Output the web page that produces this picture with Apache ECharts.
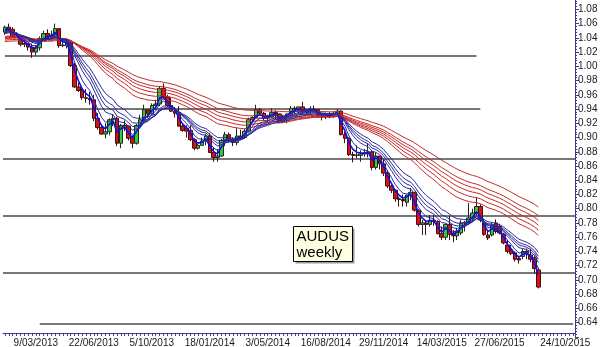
<!DOCTYPE html>
<html><head><meta charset="utf-8">
<script src="https://cdn.jsdelivr.net/npm/echarts@6/dist/echarts.min.js"></script>
<style>html,body{margin:0;padding:0;background:#fff}#c{width:600px;height:347px}</style>
</head><body><div id="c"></div>
<script>
const weekDates = [
'12/01/2013','19/01/2013','26/01/2013','2/02/2013','9/02/2013','16/02/2013','23/02/2013','2/03/2013','9/03/2013','16/03/2013',
'23/03/2013','30/03/2013','6/04/2013','13/04/2013','20/04/2013','27/04/2013','4/05/2013','11/05/2013','18/05/2013','25/05/2013',
'1/06/2013','8/06/2013','15/06/2013','22/06/2013','29/06/2013','6/07/2013','13/07/2013','20/07/2013','27/07/2013','3/08/2013',
'10/08/2013','17/08/2013','24/08/2013','31/08/2013','7/09/2013','14/09/2013','21/09/2013','28/09/2013','5/10/2013','12/10/2013',
'19/10/2013','26/10/2013','2/11/2013','9/11/2013','16/11/2013','23/11/2013','30/11/2013','7/12/2013','14/12/2013','21/12/2013',
'28/12/2013','4/01/2014','11/01/2014','18/01/2014','25/01/2014','1/02/2014','8/02/2014','15/02/2014','22/02/2014','1/03/2014',
'8/03/2014','15/03/2014','22/03/2014','29/03/2014','5/04/2014','12/04/2014','19/04/2014','26/04/2014','3/05/2014','10/05/2014',
'17/05/2014','24/05/2014','31/05/2014','7/06/2014','14/06/2014','21/06/2014','28/06/2014','5/07/2014','12/07/2014','19/07/2014',
'26/07/2014','2/08/2014','9/08/2014','16/08/2014','23/08/2014','30/08/2014','6/09/2014','13/09/2014','20/09/2014','27/09/2014',
'4/10/2014','11/10/2014','18/10/2014','25/10/2014','1/11/2014','8/11/2014','15/11/2014','22/11/2014','29/11/2014','6/12/2014',
'13/12/2014','20/12/2014','27/12/2014','3/01/2015','10/01/2015','17/01/2015','24/01/2015','31/01/2015','7/02/2015','14/02/2015',
'21/02/2015','28/02/2015','7/03/2015','14/03/2015','21/03/2015','28/03/2015','4/04/2015','11/04/2015','18/04/2015','25/04/2015',
'2/05/2015','9/05/2015','16/05/2015','23/05/2015','30/05/2015','6/06/2015','13/06/2015','20/06/2015','27/06/2015','4/07/2015',
'11/07/2015','18/07/2015','25/07/2015','1/08/2015','8/08/2015','15/08/2015','22/08/2015','29/08/2015','5/09/2015','12/09/2015',
'19/09/2015','26/09/2015','3/10/2015','10/10/2015','17/10/2015','24/10/2015','31/10/2015','7/11/2015'
];
const xLabelDates = ['9/03/2013','22/06/2013','5/10/2013','18/01/2014','3/05/2014','16/08/2014','29/11/2014','14/03/2015','27/06/2015','24/10/2015'];

const openP = [
1.0480,1.0550,1.0520,1.0420,1.0420,1.0310,1.0320,1.0270,1.0200,1.0260,
1.0390,1.0460,1.0420,1.0440,1.0530,1.0290,1.0290,1.0330,1.0010,0.9710,
0.9660,0.9560,0.9550,0.9530,0.9270,0.9140,0.9050,0.9080,0.9250,0.9270,
0.8920,0.9170,0.9160,0.8990,0.8920,0.9170,0.9250,0.9390,0.9330,0.9450,
0.9470,0.9690,0.9570,0.9450,0.9370,0.9340,0.9160,0.9130,0.9100,0.8970,
0.8850,0.8890,0.8950,0.9020,0.8790,0.8720,0.8740,0.8960,0.9040,0.8980,
0.8930,0.9020,0.9000,0.9090,0.9250,0.9280,0.9390,0.9340,0.9270,0.9290,
0.9350,0.9330,0.9230,0.9300,0.9330,0.9410,0.9400,0.9430,0.9360,0.9380,
0.9400,0.9390,0.9300,0.9290,0.9330,0.9290,0.9340,0.9370,0.9040,0.8990,
0.8760,0.8750,0.8750,0.8770,0.8780,0.8800,0.8580,0.8740,0.8630,0.8500,
0.8320,0.8260,0.8140,0.8130,0.8090,0.8190,0.8230,0.7980,0.7780,0.7800,
0.7780,0.7840,0.7820,0.7650,0.7600,0.7780,0.7640,0.7620,0.7660,0.7800,
0.7810,0.7870,0.7940,0.8030,0.7800,0.7630,0.7630,0.7800,0.7750,0.7640,
0.7490,0.7420,0.7380,0.7300,0.7330,0.7400,0.7350,0.7310,0.7140
];
const highP = [
1.0570,1.0600,1.0550,1.0480,1.0440,1.0380,1.0330,1.0320,1.0300,1.0420,
1.0500,1.0520,1.0500,1.0600,1.0530,1.0400,1.0390,1.0350,1.0050,0.9770,
0.9700,0.9680,0.9640,0.9600,0.9340,0.9190,0.9200,0.9270,0.9320,0.9290,
0.9190,0.9240,0.9170,0.9030,0.9190,0.9320,0.9460,0.9400,0.9480,0.9530,
0.9720,0.9760,0.9600,0.9560,0.9430,0.9440,0.9180,0.9170,0.9170,0.8990,
0.8910,0.9000,0.9050,0.9060,0.8860,0.8840,0.8980,0.9080,0.9070,0.9000,
0.9130,0.9110,0.9120,0.9280,0.9300,0.9460,0.9410,0.9360,0.9320,0.9410,
0.9380,0.9340,0.9320,0.9340,0.9440,0.9440,0.9430,0.9500,0.9400,0.9440,
0.9450,0.9400,0.9340,0.9350,0.9360,0.9370,0.9400,0.9380,0.9080,0.9000,
0.8800,0.8890,0.8820,0.8840,0.8910,0.8810,0.8790,0.8740,0.8690,0.8540,
0.8340,0.8270,0.8170,0.8200,0.8200,0.8290,0.8230,0.7990,0.7840,0.7830,
0.7910,0.7910,0.7840,0.7750,0.7790,0.7900,0.7700,0.7730,0.7840,0.7830,
0.8080,0.8000,0.8160,0.8060,0.7860,0.7700,0.7800,0.7850,0.7790,0.7660,
0.7560,0.7490,0.7400,0.7340,0.7440,0.7440,0.7440,0.7350,0.7170
];
const lowP = [
1.0440,1.0490,1.0400,1.0410,1.0280,1.0270,1.0220,1.0120,1.0150,1.0220,
1.0360,1.0390,1.0350,1.0420,1.0260,1.0270,1.0250,0.9990,0.9700,0.9640,
0.9530,0.9490,0.9460,0.9230,0.9110,0.9040,0.8990,0.9030,0.9160,0.8880,
0.8850,0.9090,0.8960,0.8850,0.8900,0.9140,0.9220,0.9270,0.9320,0.9390,
0.9440,0.9550,0.9430,0.9360,0.9280,0.9150,0.9080,0.9000,0.8950,0.8820,
0.8830,0.8880,0.8890,0.8780,0.8660,0.8660,0.8730,0.8880,0.8930,0.8880,
0.8890,0.8980,0.8980,0.9070,0.9200,0.9270,0.9320,0.9240,0.9210,0.9270,
0.9250,0.9210,0.9200,0.9200,0.9310,0.9330,0.9330,0.9330,0.9320,0.9320,
0.9370,0.9280,0.9240,0.9260,0.9270,0.9280,0.9300,0.9030,0.8920,0.8740,
0.8650,0.8710,0.8660,0.8730,0.8720,0.8540,0.8550,0.8550,0.8460,0.8290,
0.8220,0.8100,0.8030,0.8030,0.8030,0.8120,0.7960,0.7750,0.7630,0.7630,
0.7750,0.7760,0.7640,0.7560,0.7560,0.7560,0.7530,0.7560,0.7630,0.7680,
0.7780,0.7820,0.7900,0.7810,0.7620,0.7560,0.7610,0.7650,0.7640,0.7500,
0.7370,0.7350,0.7260,0.7230,0.7290,0.7290,0.7250,0.7090,0.6880
];
const closeP = [
1.0550,1.0520,1.0420,1.0420,1.0310,1.0320,1.0270,1.0200,1.0260,1.0390,
1.0460,1.0420,1.0440,1.0530,1.0290,1.0300,1.0330,1.0010,0.9710,0.9660,
0.9560,0.9550,0.9530,0.9270,0.9140,0.9050,0.9080,0.9250,0.9270,0.8920,
0.9170,0.9160,0.8990,0.8920,0.9170,0.9250,0.9390,0.9330,0.9450,0.9470,
0.9690,0.9570,0.9450,0.9370,0.9340,0.9160,0.9100,0.9090,0.8970,0.8850,
0.8890,0.8950,0.9020,0.8790,0.8720,0.8740,0.8960,0.9040,0.8980,0.8930,
0.9020,0.9000,0.9090,0.9250,0.9280,0.9390,0.9340,0.9270,0.9290,0.9350,
0.9330,0.9230,0.9300,0.9330,0.9410,0.9400,0.9430,0.9360,0.9380,0.9400,
0.9390,0.9300,0.9290,0.9330,0.9290,0.9340,0.9370,0.9040,0.8990,0.8760,
0.8750,0.8750,0.8770,0.8780,0.8800,0.8580,0.8740,0.8630,0.8500,0.8320,
0.8260,0.8140,0.8130,0.8110,0.8190,0.8230,0.7980,0.7780,0.7800,0.7780,
0.7840,0.7820,0.7650,0.7600,0.7780,0.7640,0.7620,0.7690,0.7800,0.7810,
0.7870,0.7940,0.8030,0.7840,0.7640,0.7590,0.7760,0.7680,0.7660,0.7520,
0.7400,0.7370,0.7290,0.7280,0.7400,0.7380,0.7290,0.7160,0.6900
];

// Guppy multiple moving averages (exponential) of the closes
const shortPeriods = [3, 5, 8, 10, 12, 15];
const longPeriods = [30, 35, 40, 45, 50, 60];
// levels of the averages at the left edge
const shortStart = [1.048, 1.047, 1.047, 1.046, 1.046, 1.045];
const longStart = [1.041, 1.040, 1.039, 1.038, 1.036, 1.034];
// horizontal support / resistance levels drawn on the chart
const levelLines = [1.0147, 0.9400, 0.8662, 0.7870, 0.7133, 0.6383];

function ema(period, start) {
  const k = 2 / (period + 1);
  let e = start;
  return closeP.map(c => { e = e + k * (c - e); return +e.toFixed(5); });
}

const candleData = closeP.map((c, i) => [openP[i], c, lowP[i], highP[i]]);

const lineSeries = [];
longPeriods.forEach((p, j) => {
  lineSeries.push({
    type: 'line', name: 'EMA' + p, data: ema(p, longStart[j]), showSymbol: false, symbol: 'none',
    silent: true, z: 3, lineStyle: { color: '#c42a2a', width: 1 }
  });
});
shortPeriods.forEach((p, j) => {
  lineSeries.push({
    type: 'line', name: 'EMA' + p, data: ema(p, shortStart[j]), showSymbol: false, symbol: 'none',
    silent: true, z: 4, lineStyle: { color: j === 0 ? '#1010e0' : '#2a2a9c', width: j === 0 ? 1.6 : 1 }
  });
});

const lvlStyle = { color: '#4a4a4a', width: 1.6, type: 'solid' };
const markData = [
  [{ coord: [weekDates[0], levelLines[0]] }, { coord: [weekDates[122], levelLines[0]] }],
  [{ coord: [weekDates[0], levelLines[1]] }, { coord: [weekDates[123], levelLines[1]] }],
  { yAxis: levelLines[2] },
  { yAxis: levelLines[3] },
  { yAxis: levelLines[4] },
  [{ coord: [weekDates[9], levelLines[5]] }, { coord: [weekDates[147], levelLines[5]] }]
];

const font = '"Liberation Sans", Arial, sans-serif';
const chart = echarts.init(document.getElementById('c'), null, { renderer: 'canvas' });
chart.setOption({
  animation: false,
  backgroundColor: '#ffffff',
  grid: { left: 3, right: 25, top: -4.9, bottom: 10.1, containLabel: false, outerBoundsMode: 'none' },
  xAxis: {
    type: 'category', data: weekDates, boundaryGap: true, offset: -4,
    axisLine: { show: true, lineStyle: { color: '#3b3b8c', width: 1 } },
    axisTick: { show: true, interval: 0, length: 3, alignWithLabel: true, lineStyle: { color: '#3b3b8c' } },
    axisLabel: {
      interval: (i, v) => xLabelDates.includes(v), margin: 5, fontSize: 10, color: '#1a1a1a',
      fontFamily: font, hideOverlap: false
    },
    splitLine: { show: false }
  },
  yAxis: {
    type: 'value', position: 'right', min: 0.62, max: 1.10, interval: 0.02, scale: true,
    axisLine: { show: true, lineStyle: { color: '#3b3b8c', width: 1 } },
    axisTick: { show: true, length: 4, lineStyle: { color: '#3b3b8c' } },
    minorTick: { show: true, splitNumber: 5, length: 2, lineStyle: { color: '#3b3b8c' } },
    axisLabel: {
      margin: 3, fontSize: 10, color: '#1a1a1a', fontFamily: font,
      formatter: v => (v < 0.63 || v > 1.09) ? '' : v.toFixed(2)
    },
    splitLine: { show: false }
  },
  series: [{
    type: 'candlestick', data: candleData, barWidth: 4, z: 2,
    itemStyle: { color: '#30d030', color0: '#e00e0e', borderColor: '#262626', borderColor0: '#3a1010', borderWidth: 1 },
    markLine: { silent: true, symbol: 'none', label: { show: false }, lineStyle: lvlStyle, data: markData, z: 1 }
  }].concat(lineSeries),
  graphic: [{
    type: 'group', left: 293, top: 226, children: [
      { type: 'rect', shape: { x: 2, y: 2, width: 59, height: 35 }, style: { fill: '#9a9a9a' } },
      { type: 'rect', shape: { x: 0, y: 0, width: 59, height: 35 }, style: { fill: '#ffffe1', stroke: '#000', lineWidth: 1 } },
      { type: 'text', x: 3, y: 2, style: { text: 'AUDUS\nweekly', font: '15px ' + font, fill: '#000', lineHeight: 16, verticalAlign: 'top' } }
    ]
  }]
});
</script></body></html>
